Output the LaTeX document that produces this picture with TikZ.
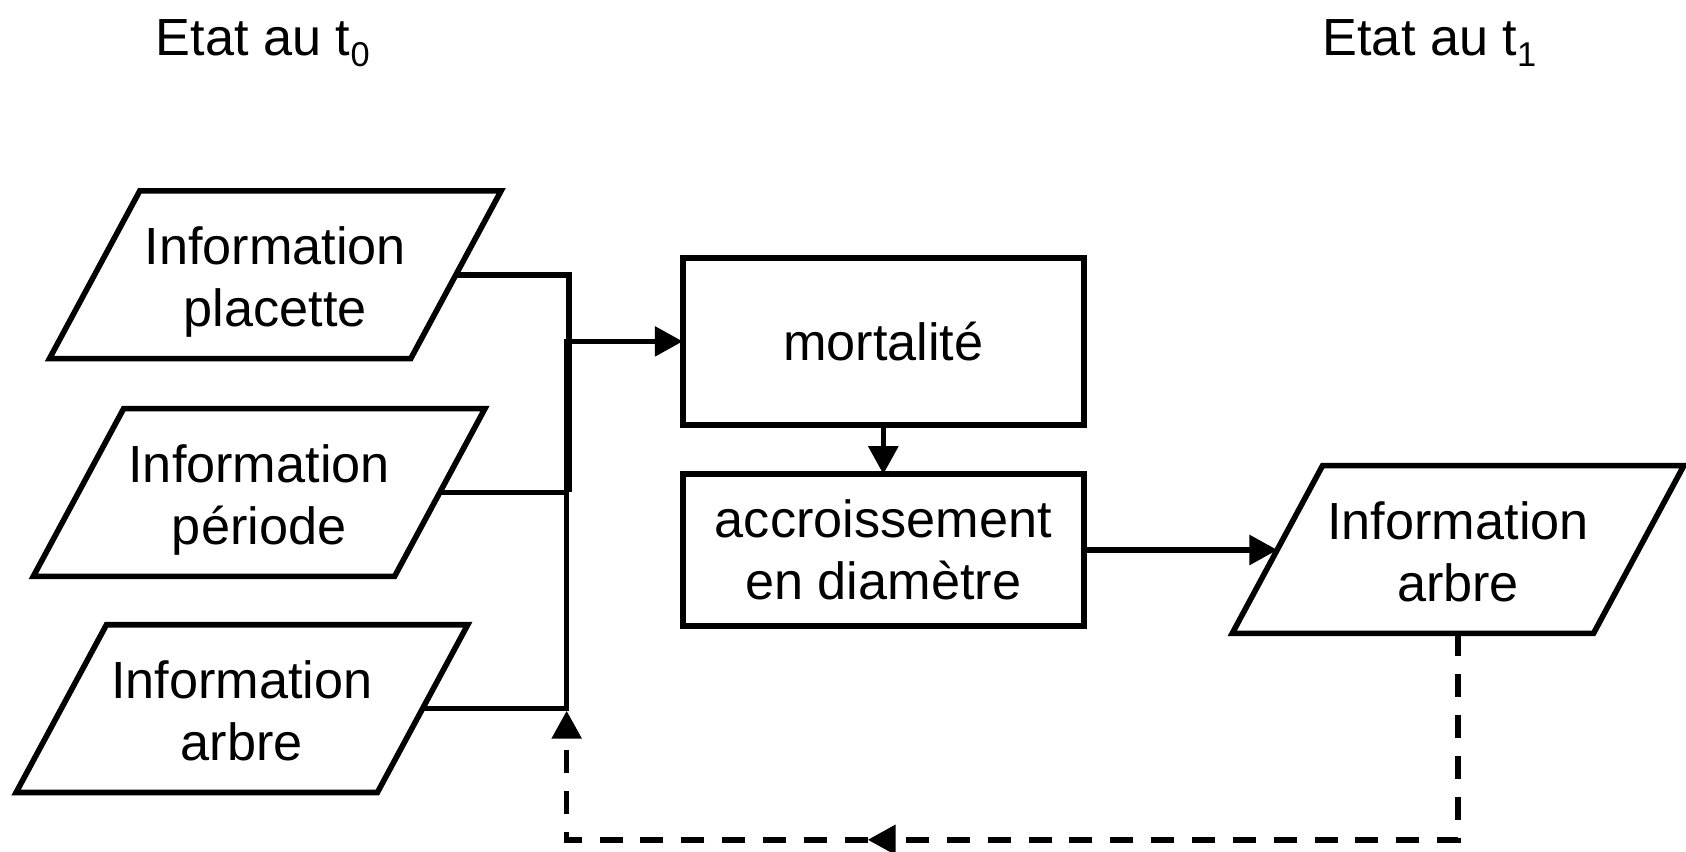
\documentclass[tikz,border=0pt]{standalone}
\usepackage{fontspec}
\setmainfont{Liberation Sans}
\usetikzlibrary{arrows.meta,calc}
\newcommand\drawpara[1]{\draw ($(#1.north west)+(42,0)$) -- ($(#1.north east)+(42,0)$) -- ($(#1.south east)+(-42,0)$) -- ($(#1.south west)+(-42,0)$) -- cycle;}
\begin{document}
\begin{tikzpicture}[x=0.5pt,y=-0.5pt,
  line width=2.6pt,
  every node/.style={font=\fontsize{24.3}{29}\selectfont},
  para/.style={minimum width=168pt,minimum height=78pt,inner sep=0pt,outer sep=0pt},
  procbox/.style={draw,rectangle,minimum width=186.5pt,inner sep=0pt,outer sep=0pt,align=center},
  txt/.style={align=center,inner sep=0pt,outer sep=0pt},
  title/.style={anchor=base west,inner sep=0pt,outer sep=0pt},
  tip/.style={-{Triangle[length=13pt,width=13.5pt]}},
  back/.style={dash pattern=on 10.7pt off 8.3pt},
]
\useasboundingbox (0,0) rectangle (1568,792);

% titles
\node[title] (t0) at (145,52) {Etat au t\raisebox{-5pt}{\fontsize{16}{16}\selectfont 0}};
\node[title] (t1) at (1230,52) {Etat au t\raisebox{-5pt}{\fontsize{16}{16}\selectfont 1}};

% input parallelograms
\node[para] (p1) at (256,255.5) {};
\drawpara{p1}
\node[txt] (p1t) at (256,262.5) {Information\\placette};

\node[para] (p2) at (241,458) {};
\drawpara{p2}
\node[txt] (p2t) at (241,465) {Information\\période};

\node[para] (p3) at (225,659) {};
\drawpara{p3}
\node[txt] (p3t) at (225,661) {Information\\arbre};

% process boxes
\node[procbox,minimum height=77.5pt] (mort) at (821.5,317.5) {mortalité};
\node[procbox,minimum height=70.5pt] (acc) at (821.5,511.5) {accroissement\\en diamètre};

% output parallelogram
\node[para] (p4) at (1356,511) {};
\drawpara{p4}
\node[txt] (p4t) at (1356,513) {Information\\arbre};

% junctions
\coordinate (jp) at (529,458);
\coordinate (jm) at (527,317.5);
\coordinate (mid) at (807,781);
\coordinate (jb) at (527,661);

% connectors
\draw (p1.east) -| (jp);
\draw (p2.east) -- (jp);
\draw[tip] (p3.east) -| (jm) -- (mort.west);
\draw[tip] (mort.south) -- (acc.north);
\draw[tip] (acc.east) -- (acc.east -| p4.west);
\draw[back,tip] (p4.south) |- (mid);
\draw[back,tip] (mid) -| (jb);
\end{tikzpicture}
\end{document}
